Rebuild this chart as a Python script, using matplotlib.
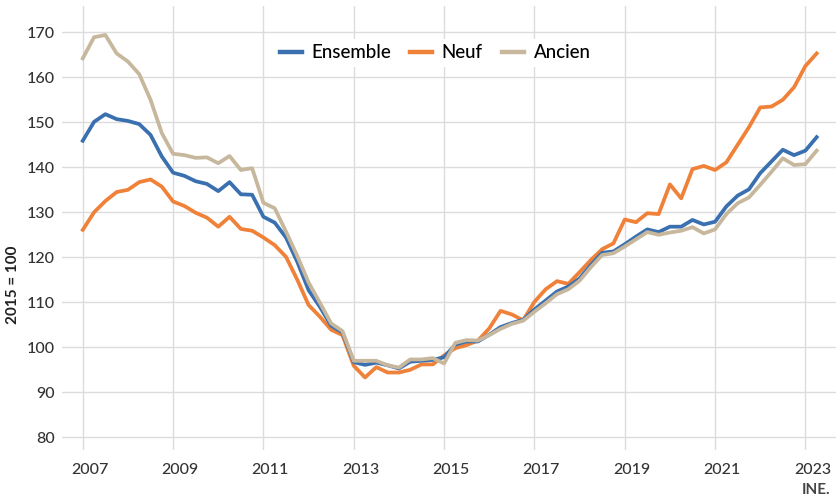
import numpy as np
import matplotlib.pyplot as plt
from matplotlib.transforms import ScaledTranslation

plt.rcParams['font.family'] = ['Lato', 'DejaVu Sans']

# trimestres 2007T1 .. 2023T2
annee_debut = 2007
ensemble = [
    145.9, 150.1, 151.8, 150.7,
    150.3, 149.6, 147.2, 142.4,
    138.8, 138.1, 136.9, 136.3,
    134.7, 136.7, 134.0, 133.9,
    129.0, 127.7, 124.4, 119.0,
    112.7, 109.0, 104.8, 103.3,
    96.7, 96.1, 96.6, 96.0,
    95.3, 96.8, 97.0, 97.2,
    97.8, 100.6, 101.3, 101.3,
    102.8, 104.5, 105.4, 106.1,
    108.4, 110.4, 112.4, 113.5,
    115.3, 118.3, 121.0, 121.3,
    122.9, 124.6, 126.2, 125.6,
    126.8, 126.8, 128.3, 127.3,
    127.9, 131.3, 133.7, 135.1,
    138.7, 141.3, 143.9, 142.7,
    143.7, 146.7,
]
neuf = [
    126.1, 130.0, 132.5, 134.5,
    135.0, 136.7, 137.3, 135.7,
    132.4, 131.4, 129.9, 128.8,
    126.8, 129.0, 126.3, 125.9,
    124.4, 122.7, 120.1, 115.0,
    109.4, 106.8, 103.9, 102.7,
    95.9, 93.3, 95.6, 94.4,
    94.4, 95.0, 96.2, 96.2,
    98.2, 99.8, 100.5, 101.5,
    104.2, 108.1, 107.3, 106.0,
    110.1, 112.9, 114.7, 114.1,
    116.7, 119.4, 121.8, 123.1,
    128.4, 127.8, 129.8, 129.6,
    136.2, 133.1, 139.6, 140.3,
    139.4, 141.1, 145.0, 148.9,
    153.3, 153.5, 155.0, 157.8,
    162.5, 165.3,
]
ancien = [
    164.2, 168.9, 169.4, 165.3,
    163.5, 160.7, 155.0, 147.6,
    143.0, 142.7, 142.1, 142.2,
    140.9, 142.5, 139.4, 139.8,
    132.1, 130.9, 125.7, 120.3,
    114.4, 109.9, 105.3, 103.6,
    97.0, 97.0, 97.0, 96.0,
    95.5, 97.3, 97.3, 97.6,
    96.4, 101.0, 101.6, 101.5,
    102.7, 104.1, 105.2, 105.9,
    107.9, 109.8, 111.8, 112.9,
    114.8, 117.8, 120.5, 120.9,
    122.4, 124.0, 125.6, 125.0,
    125.5, 125.9, 126.7, 125.3,
    126.2, 129.6, 132.0, 133.3,
    136.1, 139.0, 142.0, 140.5,
    140.7, 143.7,
]
annees_ticks = list(range(2007, 2024, 2))
y_ticks = list(range(80, 171, 10))

x = annee_debut + np.arange(len(ensemble)) / 4

fig = plt.figure(figsize=(8.37, 5.01), dpi=100)
ax = fig.add_axes([62 / 837, 51 / 501, 775 / 837, 444 / 501])

ax.plot(x, ensemble, color="#3A70B0", lw=2.7, label="Ensemble", zorder=3)
ax.plot(x, neuf, color="#F08138", lw=2.7, label="Neuf", zorder=2)
ax.plot(x, ancien, color="#C7B79D", lw=2.7, label="Ancien", zorder=4)

ax.set_xlim(2006.54, 2023.70)
ax.set_ylim(77.18, 175.84)
ax.set_xticks(annees_ticks)
ax.set_yticks(y_ticks)
ax.grid(True, color="#DCDCDC", lw=1)
ax.set_axisbelow(True)
for s in ax.spines.values():
    s.set_visible(False)
ax.tick_params(length=0, labelsize=11.5, colors="#333333", pad=5)
ax.tick_params(axis="x", pad=9)
for lab in ax.get_xticklabels() + ax.get_yticklabels():
    lab.set_fontweight("medium")

decalage = ScaledTranslation(7 / 100, 0, fig.dpi_scale_trans)
for lab in ax.get_xticklabels():
    lab.set_transform(lab.get_transform() + decalage)

leg = ax.legend(loc="center", bbox_to_anchor=(435 / 837, 1 - 53 / 501),
                bbox_transform=fig.transFigure, ncol=3, frameon=True,
                prop={"size": 13.5, "weight": "medium"}, handlelength=1.2,
                handletextpad=0.5, columnspacing=1.0, borderpad=0.3)
leg.get_frame().set_facecolor("white")
leg.get_frame().set_edgecolor("none")
leg.get_frame().set_alpha(1)
for ligne in leg.get_lines():
    ligne.set_linewidth(3.2)

fig.text(13 / 837, 1 - 285 / 501, "2015 = 100", rotation=90, ha="center",
         va="center", fontsize=11, fontweight="bold", color="#222222")
fig.text(830 / 837, 1 - 490 / 501, "INE.", ha="right", va="center",
         fontsize=11, fontweight="bold", color="#444444")

fig.savefig("out.png", dpi=100)
